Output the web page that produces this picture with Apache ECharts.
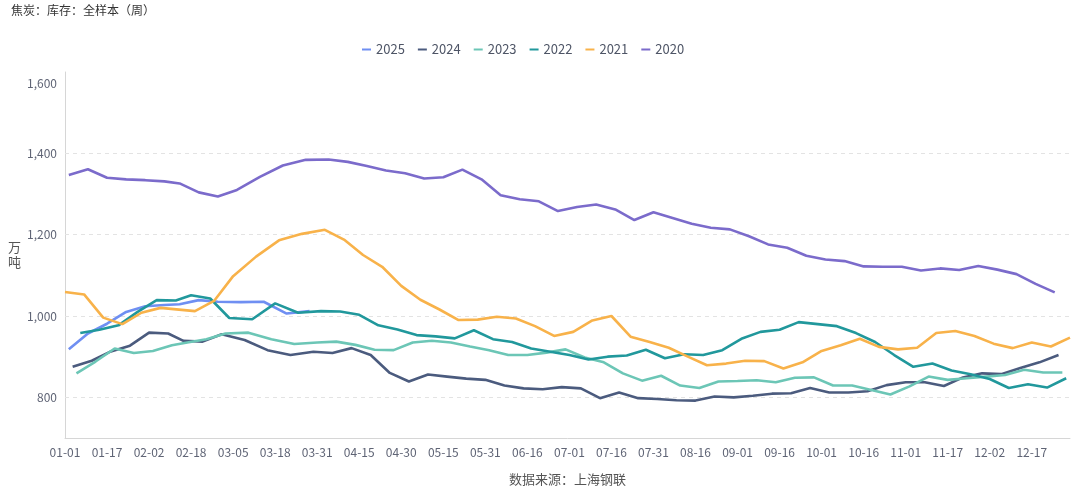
<!DOCTYPE html>
<html>
<head>
<meta charset="utf-8">
<script src="https://cdn.jsdelivr.net/npm/echarts@6/dist/echarts.min.js"></script>
<style>
  html, body { margin: 0; padding: 0; background: #fff; }
  #chart { width: 1080px; height: 491px; }
</style>
</head>
<body>
<div id="chart"></div>
<script>
// ---- data (万吨), weekly readings ----
const seriesNames = ['2025', '2024', '2023', '2022', '2021', '2020'];
const xTickLabels = ['01-01','01-17','02-02','02-18','03-05','03-18','03-31','04-15','04-30','05-15','05-31','06-16',
  '07-01','07-16','07-31','08-16','09-01','09-16','10-01','10-16','11-01','11-17','12-02','12-17'];
const yTickLabels = [800, 1000, 1200, 1400, 1600];
const yGridValues = [800, 1000, 1200, 1400];

// first report date of each year and dates without a report
const startDates = { '2025': '2025-01-03', '2024': '2024-01-05', '2023': '2023-01-06', '2022': '2022-01-07', '2021': '2021-01-01', '2020': '2020-01-03' };
const skippedDates = ['2021-02-12'];

const values2025 = [918, 957, 981, 1010, 1024, 1027, 1029, 1039, 1035, 1034, 1035, 1006, 1012];
const values2024 = [875, 890, 913, 927, 959, 957, 939, 937, 955, 941, 916, 904, 912, 909, 921, 904, 860, 839, 856, 851,
  846, 843, 829, 822, 820, 825, 822, 798, 812, 798, 796, 793, 792, 802, 800, 804, 809, 810, 823, 812,
  812, 815, 830, 837, 837, 828, 849, 859, 857, 872, 886, 904];
const values2023 = [859, 888, 920, 909, 914, 928, 935, 943, 957, 959, 943, 931, 935, 937, 929, 917, 916, 935, 939, 935,
  925, 916, 904, 904, 910, 918, 898, 886, 859, 841, 853, 829, 823, 839, 840, 842, 837, 848, 849, 829,
  829, 818, 807, 827, 851, 843, 847, 851, 855, 868, 861, 861];
const values2022 = [958, 966, 977, 1010, 1039, 1038, 1051, 1043, 995, 992, 1031, 1008, 1012, 1011, 1003, 977, 967, 953, 950, 945,
  965, 943, 936, 920, 912, 904, 893, 900, 903, 917, 896, 906, 904, 916, 944, 961, 966, 985, 980, 975,
  958, 936, 904, 875, 883, 866, 857, 845, 823, 832, 824, 847];
const values2021 = [1059, 1053, 996, 980, 1008, 1020, 1012, 1037, 1098, 1146, 1186, 1202, 1212, 1188, 1150, 1121, 1074, 1040, 1016, 990,
  991, 998, 994, 975, 951, 961, 989, 1000, 949, 936, 922, 900, 879, 883, 890, 889, 871, 886, 914, 928,
  944, 924, 918, 922, 958, 963, 951, 932, 921, 935, 925, 947];
const values2020 = [1347, 1361, 1340, 1336, 1334, 1331, 1326, 1304, 1294, 1310, 1342, 1370, 1384, 1385, 1379, 1369, 1358, 1351, 1338, 1341,
  1360, 1336, 1297, 1287, 1282, 1258, 1268, 1274, 1262, 1236, 1255, 1241, 1227, 1217, 1213, 1196, 1176, 1168, 1148, 1139,
  1135, 1122, 1121, 1121, 1112, 1117, 1113, 1123, 1114, 1103, 1079, 1058];

const seriesValues = { '2025': values2025, '2024': values2024, '2023': values2023, '2022': values2022, '2021': values2021, '2020': values2020 };
const seriesColors = { '2025': '#6f8ff2', '2024': '#4b5b7e', '2023': '#6cc6b6', '2022': '#21989c', '2021': '#f8b24a', '2020': '#7b6bcb' };

// ---- build weekly dates (MM-DD) ----
function weeklyDates(startISO, count) {
  const out = [];
  const d = new Date(startISO + 'T00:00:00Z');
  while (out.length < count) {
    const iso = d.toISOString().slice(0, 10);
    if (skippedDates.indexOf(iso) < 0) out.push(iso.slice(5));
    d.setUTCDate(d.getUTCDate() + 7);
  }
  return out;
}
const datesByYear = {};
const catSet = new Set();
seriesNames.forEach(function (y) {
  datesByYear[y] = weeklyDates(startDates[y], seriesValues[y].length);
  datesByYear[y].forEach(function (c) { catSet.add(c); });
});
const categories = Array.from(catSet).sort();

const chart = echarts.init(document.getElementById('chart'), null, { renderer: 'canvas' });
const font = '"Microsoft YaHei", "Noto Sans CJK SC", "Noto Sans", sans-serif';
const yMax = yTickLabels[yTickLabels.length - 1];

const lineSeries = seriesNames.map(function (y) {
  return {
    name: y,
    type: 'line',
    symbol: 'none',
    z: 8,
    color: seriesColors[y],
    lineStyle: { width: 2.6, color: seriesColors[y] },
    data: datesByYear[y].map(function (c, i) { return [c, seriesValues[y][i]]; })
  };
});
// dashed horizontal grid lines at the labelled values
lineSeries.push({
  name: 'grid',
  type: 'line',
  z: 1,
  data: [],
  silent: true,
  markLine: {
    silent: true,
    z: 1,
    symbol: ['none', 'none'],
    label: { show: false },
    emphasis: { disabled: true },
    lineStyle: { color: '#e3e3e3', type: [4, 4], width: 1 },
    data: yGridValues.map(function (v) { return { yAxis: v }; })
  }
});

chart.setOption({
  animation: false,
  backgroundColor: '#fff',
  textStyle: { fontFamily: font },
  title: {
    text: '焦炭：库存：全样本（周）',
    left: 6, top: -1,
    textStyle: { fontSize: 12, fontWeight: 'normal', color: '#333', fontFamily: font }
  },
  legend: {
    top: 38, left: 357,
    icon: 'rect',
    itemWidth: 9, itemHeight: 2, itemGap: 13,
    textStyle: { fontSize: 13, color: '#4e5566', fontFamily: font },
    data: seriesNames
  },
  grid: { left: 65, right: 10, top: 72, bottom: 53 },
  xAxis: {
    type: 'category',
    data: categories,
    boundaryGap: false,
    name: '数据来源：上海钢联',
    nameLocation: 'middle',
    nameGap: 35,
    nameTextStyle: { fontSize: 13, color: '#555', fontFamily: font },
    axisLine: { lineStyle: { color: '#d6d6d6' } },
    axisTick: { show: false },
    axisLabel: {
      color: '#5f6475', fontSize: 12, margin: 8,
      interval: function (idx, val) { return xTickLabels.indexOf(val) >= 0; }
    },
    splitLine: { show: false }
  },
  yAxis: {
    type: 'value',
    min: 700, max: yMax, interval: 100,
    name: '万\n吨',
    nameLocation: 'middle',
    nameRotate: 0,
    nameGap: 44,
    nameTextStyle: { fontSize: 13, color: '#555', fontFamily: font, lineHeight: 15 },
    axisLine: { show: true, lineStyle: { color: '#d6d6d6' } },
    axisTick: { show: false },
    axisLabel: {
      color: '#5f6475', fontSize: 12,
      formatter: function (v) {
        if (yTickLabels.indexOf(v) < 0) return '';
        const s = echarts.format.addCommas(v);
        return v === yMax ? '{mx|' + s + '}' : s;
      },
      rich: { mx: { color: '#5f6475', fontSize: 12, padding: [22, 0, 0, 0] } }
    },
    splitLine: { show: false }
  },
  series: lineSeries
});
</script>
</body>
</html>
